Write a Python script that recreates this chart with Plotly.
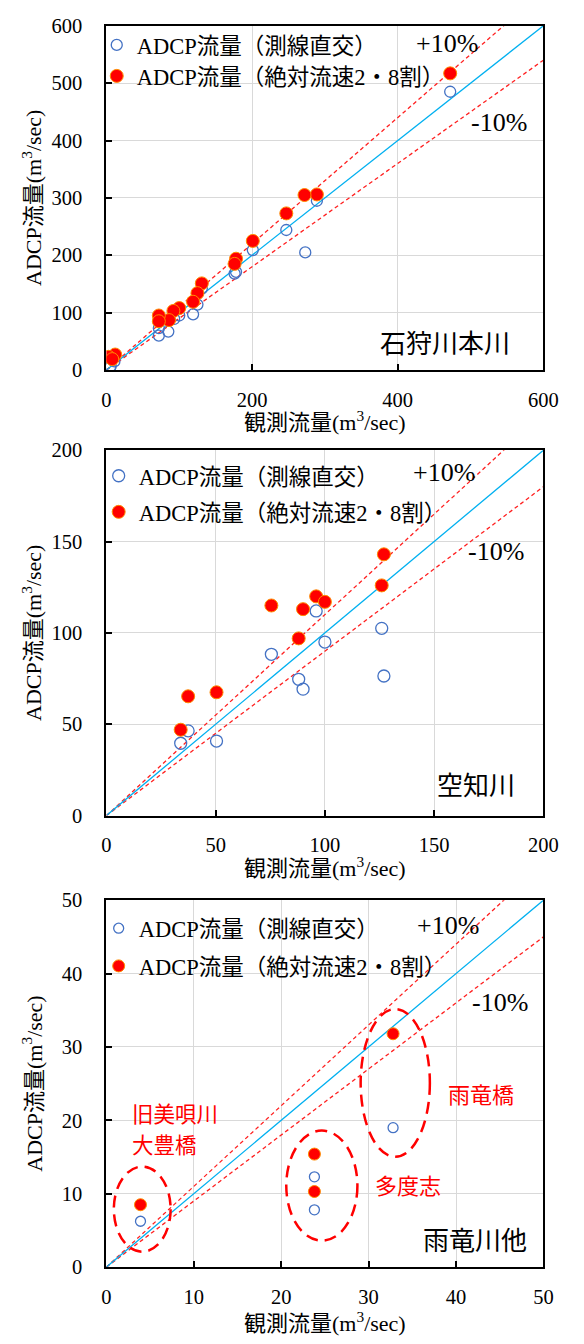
import plotly.graph_objects as go

W, H = 584, 1344

# ---------------- data ----------------
# Panel 1: 石狩川本川
p1_blue_x = [472, 289, 273, 247, 201, 178, 176, 131, 125, 119, 100, 93, 85, 72, 72, 11, 6, 5]
p1_blue_y = [485, 295, 205, 244, 209, 171, 168, 142, 114, 97, 95, 89, 67, 60, 73, 15, 7, 4]
p1_red_x = [472, 289, 272, 247, 201, 178, 176, 131, 125, 119, 100, 92, 86, 72, 72, 12, 3, 8]
p1_red_y = [517, 306, 305, 273, 225, 194, 185, 151, 134, 119, 108, 103, 87, 95, 85, 27, 23, 19]

# Panel 2: 空知川
p2_blue_x = [96, 126, 100, 75.5, 88, 90, 127, 37.4, 50.4, 34]
p2_blue_y = [112, 102.5, 95, 88.3, 74.6, 69.2, 76.4, 46.4, 40.8, 39.6]
p2_red_x = [127, 126, 96, 100, 90, 75.5, 88, 50.4, 37.4, 34]
p2_red_y = [143, 126, 120, 117, 113, 115, 97, 67.5, 65.3, 47]

# Panel 3: 雨竜川他
p3_blue_x = [32.8, 23.8, 23.8, 3.9]
p3_blue_y = [19.0, 12.3, 7.8, 6.25]
p3_red_x = [32.8, 23.8, 23.8, 3.9]
p3_red_y = [31.8, 15.4, 10.3, 8.5]

axis_max = [600, 200, 50]
axis_dtick = [100, 50, 10]
x_dtick = [200, 50, 10]
panel_names = ["石狩川本川", "空知川", "雨竜川他"]
legend_blue = "ADCP流量（測線直交）"
legend_red = "ADCP流量（絶対流速2・8割）"
x_title = "観測流量(m<sup>3</sup>/sec)"
y_title = "ADCP流量(m<sup>3</sup>/sec)"
site_names = ["旧美唄川", "大豊橋", "多度志", "雨竜橋"]

SERIF = "Liberation Serif, Noto Sans CJK JP, serif"
SANS = "Noto Sans CJK JP, Noto Sans, sans-serif"

# ---------------- layout geometry (pixels) ----------------
px_left, px_right = 105, 557.5
panels_px = [(15, 365), (446.5, 818), (904, 1277)]  # (top, bottom)


def fx(px):
    return px / W


def fy(py):
    return 1 - py / H


fig = go.Figure()

blue_sizes = [11, 12, 10]
red_sizes = [13, 13, 12]
data_sets = [
    (p1_blue_x, p1_blue_y, p1_red_x, p1_red_y),
    (p2_blue_x, p2_blue_y, p2_red_x, p2_red_y),
    (p3_blue_x, p3_blue_y, p3_red_x, p3_red_y),
]

for i in range(3):
    sfx = "" if i == 0 else str(i + 1)
    xa, ya = "x" + sfx, "y" + sfx
    m = axis_max[i]
    # reference lines: +10%, -10%, 1:1
    fig.add_trace(go.Scatter(x=[0, m], y=[0, m * 1.1], mode="lines", xaxis=xa, yaxis=ya,
                             line=dict(color="#FF2020", width=1.3, dash="4px,3px"),
                             showlegend=False, hoverinfo="skip"))
    fig.add_trace(go.Scatter(x=[0, m], y=[0, m * 0.9], mode="lines", xaxis=xa, yaxis=ya,
                             line=dict(color="#FF2020", width=1.3, dash="4px,3px"),
                             showlegend=False, hoverinfo="skip"))
    fig.add_trace(go.Scatter(x=[0, m], y=[0, m], mode="lines", xaxis=xa, yaxis=ya,
                             line=dict(color="#00B0F0", width=1.3),
                             showlegend=False, hoverinfo="skip"))
    bx, by, rx, ry = data_sets[i]
    lb = "legend" if i == 0 else "legend%d" % (2 * i + 1)
    lr = "legend%d" % (2 * i + 2)
    fig.add_trace(go.Scatter(x=bx, y=by, mode="markers", xaxis=xa, yaxis=ya,
                             name=legend_blue, legend=lb,
                             marker=dict(symbol="circle-open", size=blue_sizes[i], color="#4472C4",
                                         line=dict(width=1.3, color="#4472C4"))))
    fig.add_trace(go.Scatter(x=rx, y=ry, mode="markers", xaxis=xa, yaxis=ya,
                             name=legend_red, legend=lr,
                             marker=dict(symbol="circle", size=red_sizes[i], color="#FF0000",
                                         line=dict(width=1, color="#FF8C00"))))

axis_common = dict(showline=True, mirror=True, linecolor="black", linewidth=2,
                   ticks="inside", ticklen=6, tickwidth=2, tickcolor="black",
                   showgrid=True, gridcolor="#D9D9D9", gridwidth=1, zeroline=False,
                   tickfont=dict(family=SERIF, size=20.5, color="black"))

layout_kw = {}
for i in range(3):
    sfx = "" if i == 0 else str(i + 1)
    top, bot = panels_px[i]
    layout_kw["xaxis" + sfx] = dict(axis_common, domain=[fx(px_left), fx(px_right)],
                                    range=[0, axis_max[i]], dtick=x_dtick[i], tick0=0,
                                    anchor="y" + sfx, ticklabelstandoff=10)
    layout_kw["yaxis" + sfx] = dict(axis_common, domain=[fy(bot), fy(top)],
                                    range=[0, axis_max[i]], dtick=axis_dtick[i], tick0=0,
                                    anchor="x" + sfx, ticklabelstandoff=18)

# legends: one per entry, (text start x, row centre y) in pixels
legend_rows = [(135, 32), (135, 63.5), (137, 470), (137, 506.7), (137, 930), (137, 968.3)]
ROW_OFFSET = 19
for k, (tx, ry) in enumerate(legend_rows):
    key = "legend" if k == 0 else "legend%d" % (k + 1)
    layout_kw[key] = dict(
        x=fx(tx - 40), y=fy(ry - ROW_OFFSET), xanchor="left", yanchor="top",
        bgcolor="rgba(0,0,0,0)", borderwidth=0,
        font=dict(family=SERIF, size=22.5, color="black"), itemsizing="trace")

annotations = []
# axis titles
for i in range(3):
    top, bot = panels_px[i]
    annotations.append(dict(text=y_title, x=fx(28), y=fy((top + bot) / 2), xref="paper", yref="paper",
                            textangle=-90, showarrow=False, xanchor="center", yanchor="middle",
                            font=dict(family=SERIF, size=22, color="black")))
x_title_y = [416.5, 870, 1333]
for i in range(3):
    annotations.append(dict(text=x_title, x=fx((px_left + px_right) / 2), y=fy(x_title_y[i]),
                            xref="paper", yref="paper", showarrow=False,
                            xanchor="center", yanchor="middle",
                            font=dict(family=SERIF, size=22, color="black")))
# panel names (left edge, centre y)
name_pos = [(386, 336), (445, 785), (431, 1248)]
for i in range(3):
    annotations.append(dict(text=panel_names[i], x=fx(name_pos[i][0]), y=fy(name_pos[i][1]),
                            xref="paper", yref="paper", showarrow=False,
                            xanchor="left", yanchor="middle",
                            font=dict(family=SANS, size=26, color="black")))
# +10% / -10% (left edge, centre y)
plus_pos = [(423, 33), (420, 469), (425, 930)]
minus_pos = [(480, 113), (477, 550), (482, 1008)]
for i in range(3):
    annotations.append(dict(text="+10%", x=fx(plus_pos[i][0]), y=fy(plus_pos[i][1]),
                            xref="paper", yref="paper", showarrow=False,
                            xanchor="left", yanchor="middle",
                            font=dict(family=SERIF, size=26, color="black")))
    annotations.append(dict(text="-10%", x=fx(minus_pos[i][0]), y=fy(minus_pos[i][1]),
                            xref="paper", yref="paper", showarrow=False,
                            xanchor="left", yanchor="middle",
                            font=dict(family=SERIF, size=26, color="black")))
# red site labels in panel 3 (left edge, centre y, size)
site_pos = [(129, 1120.3, 21.5), (129, 1151.6, 21.5), (381, 1193, 22), (457, 1100, 22)]
for t, (x, y, s) in zip(site_names, site_pos):
    annotations.append(dict(text=t, x=fx(x), y=fy(y), xref="paper", yref="paper", showarrow=False,
                            xanchor="left", yanchor="middle",
                            font=dict(family=SANS, size=s, color="#FF0000")))

# dashed ellipses around site groups (data coordinates of panel 3)
ellipses = [(4.1, 7.9, 3.25, 5.8), (24.65, 11.1, 4.07, 7.5), (33.05, 25.1, 3.96, 10.07)]
shapes = []
for cx, cy, rx, ry in ellipses:
    shapes.append(dict(type="circle", xref="x3", yref="y3", x0=cx - rx, x1=cx + rx,
                       y0=cy - ry, y1=cy + ry,
                       line=dict(color="#FF0000", width=2.5, dash="12px,7px")))

fig.update_layout(width=W, height=H, margin=dict(l=0, r=0, t=0, b=0),
                  paper_bgcolor="white", plot_bgcolor="white",
                  annotations=annotations, shapes=shapes, **layout_kw)

fig.write_html("out.html",
               post_script="document.body.style.margin='0';document.body.style.padding='0';")
